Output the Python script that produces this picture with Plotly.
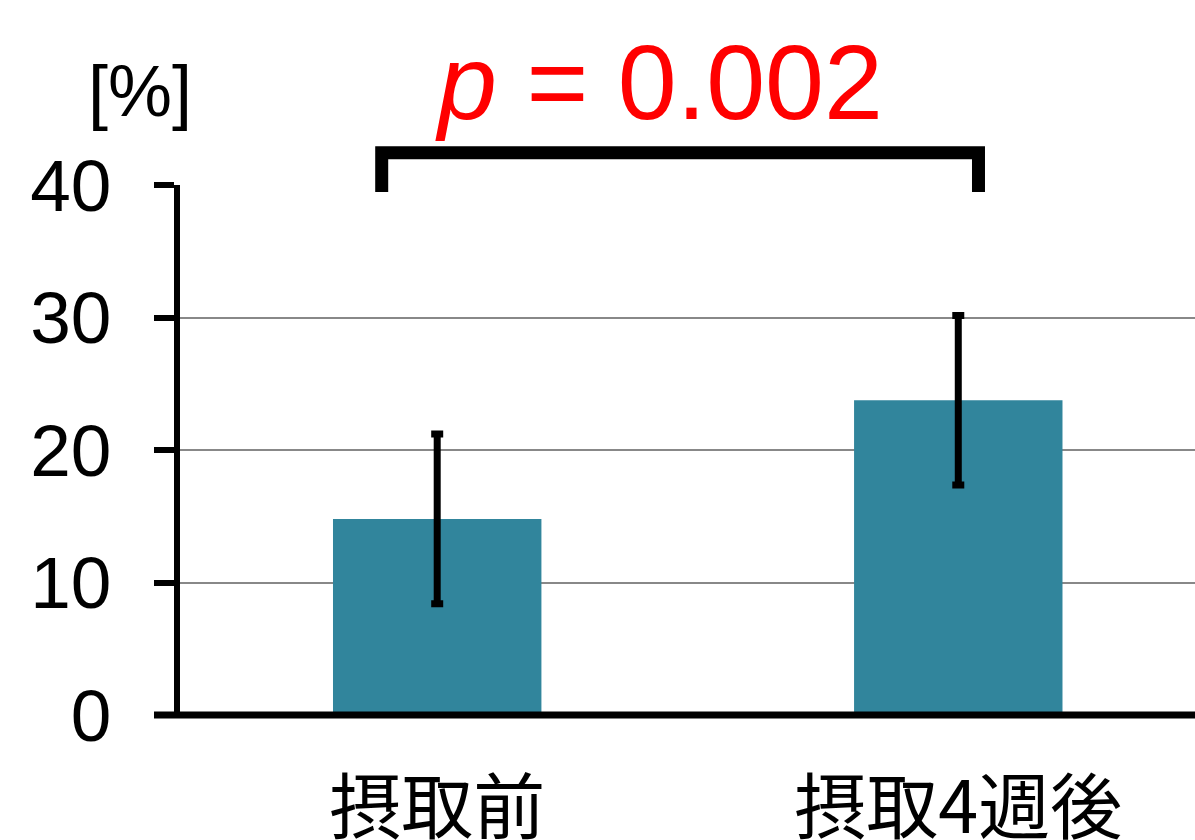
import plotly.graph_objects as go

categories = ["摂取前", "摂取4週後"]
means = [14.8, 23.75]
sds = [6.4, 6.4]
y_ticks = [0, 10, 20, 30, 40]
p_label = "<i>p</i> = 0.002"
unit_label = "[%]"

BAR_COLOR = "#31859C"
FONT = "Arial, Liberation Sans, sans-serif"

fig = go.Figure()
fig.add_trace(go.Bar(
    x=categories, y=means, width=0.4,
    marker=dict(color=BAR_COLOR, line=dict(width=0)),
    error_y=dict(type="data", array=sds, visible=True, color="black",
                 thickness=7, width=6),
))

fig.update_layout(
    template="none",
    width=1195, height=840,
    margin=dict(l=180, r=0, t=184.6, b=124.6, autoexpand=False),
    paper_bgcolor="white", plot_bgcolor="white",
    showlegend=False,
    font=dict(family=FONT, color="black"),
    xaxis=dict(
        range=[-0.4936, 1.4543], showline=False, showgrid=False, zeroline=False,
        ticks="", tickfont=dict(size=72, family="Noto Sans CJK JP", color="black"),
        ticklabelstandoff=45, automargin=False,
    ),
    yaxis=dict(
        range=[0, 40], tickvals=y_ticks, showline=True, linecolor="black", linewidth=6,
        ticks="outside", ticklen=20, tickwidth=6, tickcolor="black",
        showgrid=True, gridcolor="#888888", gridwidth=1.5, zeroline=False,
        tickfont=dict(size=73, family=FONT, color="black"),
        ticklabelstandoff=28, automargin=False,
    ),
    shapes=[
        dict(type="line", xref="paper", yref="paper", x0=-0.0256, x1=1, y0=0, y1=0,
             line=dict(color="black", width=7), layer="above"),
        dict(type="path", xref="x", yref="paper",
             path="M -0.1065,0.9866 L -0.1065,1.0608 L 1.0388,1.0608 L 1.0388,0.9866",
             line=dict(color="black", width=13)),
    ],
    annotations=[
        dict(text=unit_label, xref="paper", yref="paper", x=-0.0394, y=1.178,
             xanchor="center", yanchor="middle", showarrow=False,
             font=dict(size=72, family=FONT, color="black")),
        dict(text=p_label, xref="paper", yref="paper", x=0.4719, y=1.1943,
             xanchor="center", yanchor="middle", showarrow=False,
             font=dict(size=106, family=FONT, color="#FF0000")),
    ],
)

fig.write_html(
    "out.html",
    config={"displayModeBar": False},
    post_script="document.body.style.margin='0';document.body.style.overflow='hidden';",
)
